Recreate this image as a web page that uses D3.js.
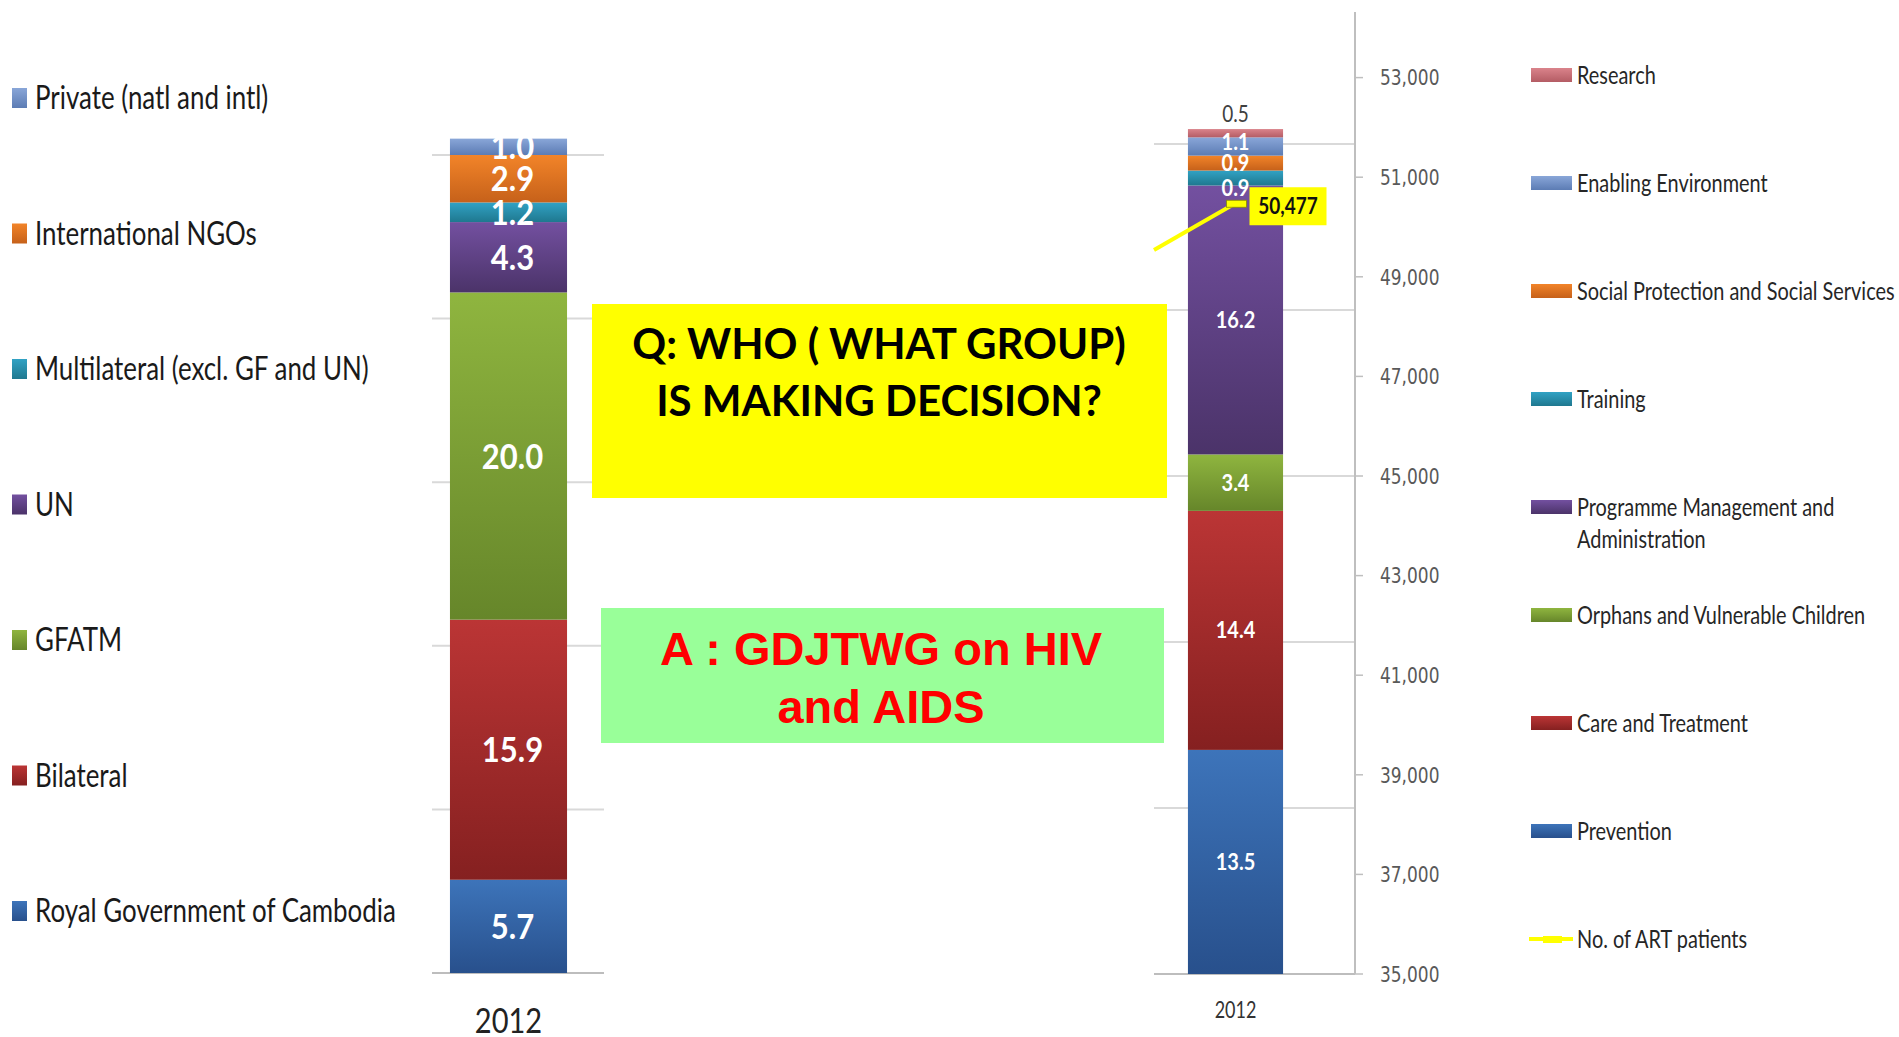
<!DOCTYPE html>
<html>
<head>
<meta charset="utf-8">
<script src="https://cdn.jsdelivr.net/npm/d3@7"></script>
<style>
  body { margin: 0; background: #fff; }
  svg { display: block; }
</style>
</head>
<body>
<svg width="1899" height="1037"></svg>
<script>
// left chart: funding sources, 2012 (US$ million)
var fundingSources = ["Royal Government of Cambodia", "Bilateral", "GFATM", "UN",
    "Multilateral (excl. GF and UN)", "International NGOs", "Private (natl and intl)"];
var fundingValues = [5.7, 15.9, 20.0, 4.3, 1.2, 2.9, 1.0];

// right chart: spending categories, 2012 (US$ million)
var spendingCategories = ["Prevention", "Care and Treatment", "Orphans and Vulnerable Children",
    "Programme Management and Administration", "Training",
    "Social Protection and Social Services", "Enabling Environment", "Research"];
var spendingValues = [13.5, 14.4, 3.4, 16.2, 0.9, 0.9, 1.1, 0.5];

// line on secondary axis: value where it enters the plot, then 2012
var years = ["2012"];
var artPatients = [49540, 50477];

var gridValues = [0, 10, 20, 30, 40, 50];
var artTicks = [35000, 37000, 39000, 41000, 43000, 45000, 47000, 49000, 51000, 53000];

var svg = d3.select("svg");
var calibri = "Lato, 'Open Sans', sans-serif";

var palette = {
    blue:   ["#3d74ba", "#28508c"],
    red:    ["#bb3535", "#852020"],
    green:  ["#8fb53f", "#66862a"],
    purple: ["#7350a0", "#4b3369"],
    teal:   ["#31a2c4", "#1f788f"],
    orange: ["#f28429", "#c6611a"],
    sky:    ["#89a6d8", "#5c7cb4"],
    pink:   ["#da838b", "#b45c64"]
};
var fundingColor = d3.scaleOrdinal()
    .domain(fundingSources)
    .range(["blue", "red", "green", "purple", "teal", "orange", "sky"]);
var spendingColor = d3.scaleOrdinal()
    .domain(spendingCategories)
    .range(["blue", "red", "green", "purple", "teal", "orange", "sky", "pink"]);

var defs = svg.append("defs");
Object.keys(palette).forEach(function(k) {
    var lg = defs.append("linearGradient")
        .attr("id", "grad-" + k)
        .attr("x1", 0).attr("y1", 0).attr("x2", 0).attr("y2", 1);
    lg.append("stop").attr("offset", "0%").attr("stop-color", palette[k][0]);
    lg.append("stop").attr("offset", "100%").attr("stop-color", palette[k][1]);
});
var fill = k => `url(#grad-${k})`;

// text is vertically stretched in the original slide
function stext(parent, x, y, str, size, sy) {
    return parent.append("text")
        .attr("transform", `translate(${x}, ${y}) scale(1, ${sy})`)
        .attr("dy", "0.36em")
        .attr("font-family", calibri)
        .attr("font-size", size)
        .text(str);
}

// ---------- left chart ----------
var xL = d3.scaleBand().domain(years).range([432, 585]).padding(0.133);
var yL = d3.scaleLinear().domain([0, 60]).range([973, 973 - 60 * 16.36]);

var gL = svg.append("g");
gL.selectAll("line.grid")
    .data(gridValues)
    .enter().append("line")
        .attr("x1", 432).attr("x2", 604)
        .attr("y1", d => yL(d)).attr("y2", d => yL(d))
        .attr("stroke", d => d === 0 ? "#bdbdbd" : "#d9d9d9")
        .attr("stroke-width", 2);

var rowL = { year: "2012" };
fundingSources.forEach((s, i) => rowL[s] = fundingValues[i]);
var stackL = d3.stack().keys(fundingSources)([rowL]);

gL.selectAll("rect.seg")
    .data(stackL)
    .enter().append("rect")
        .attr("x", xL("2012"))
        .attr("width", xL.bandwidth())
        .attr("y", d => yL(d[0][1]))
        .attr("height", d => yL(d[0][0]) - yL(d[0][1]))
        .attr("fill", d => fill(fundingColor(d.key)));

stackL.forEach(function(d) {
    stext(gL, xL("2012") + xL.bandwidth() / 2 + 4, yL((d[0][0] + d[0][1]) / 2),
            d3.format(".1f")(d[0][1] - d[0][0]), 31, 1.12)
        .attr("text-anchor", "middle")
        .attr("font-weight", 700)
        .attr("fill", "#fff");
});

stext(gL, xL("2012") + xL.bandwidth() / 2, 1020, "2012", 29, 1.2)
    .attr("text-anchor", "middle")
    .attr("fill", "#222");

// left legend
var legL = gL.append("g")
    .selectAll("g")
    .data(fundingSources.slice().reverse())
    .enter().append("g")
        .attr("transform", (d, i) => `translate(0, ${98 + i * 135.5})`);
legL.append("rect")
    .attr("x", 12).attr("y", -10)
    .attr("width", 15).attr("height", 20)
    .attr("fill", d => fill(fundingColor(d)));
legL.each(function(d) {
    stext(d3.select(this), 35, 0, d, 25.9, 1.23).attr("fill", "#1a1a1a");
});

// ---------- right chart ----------
var plotLeft = 1154, axisX = 1355;
var xR = d3.scaleBand().domain(years).range([plotLeft, 1317]).padding(0.263);
var yR = d3.scaleLinear().domain([0, 60]).range([974, -22]);
var yArt = d3.scaleLinear().domain([35000, 55000]).range([974, -22]);

var gR = svg.append("g");
gR.selectAll("line.grid")
    .data(gridValues)
    .enter().append("line")
        .attr("x1", plotLeft).attr("x2", axisX)
        .attr("y1", d => yR(d)).attr("y2", d => yR(d))
        .attr("stroke", d => d === 0 ? "#bdbdbd" : "#d9d9d9")
        .attr("stroke-width", 2);

var rowR = { year: "2012" };
spendingCategories.forEach((s, i) => rowR[s] = spendingValues[i]);
var stackR = d3.stack().keys(spendingCategories)([rowR]);

gR.selectAll("rect.seg")
    .data(stackR)
    .enter().append("rect")
        .attr("x", xR("2012"))
        .attr("width", xR.bandwidth())
        .attr("y", d => yR(d[0][1]))
        .attr("height", d => yR(d[0][0]) - yR(d[0][1]))
        .attr("fill", d => fill(spendingColor(d.key)));

var nudge = { "Training": 10, "Enabling Environment": -5 };
var cx = xR("2012") + xR.bandwidth() / 2;
stackR.forEach(function(d) {
    var v = d[0][1] - d[0][0];
    var outside = v < 0.6;
    var y = outside ? yR(d[0][1]) - 15 : yR((d[0][0] + d[0][1]) / 2) + (nudge[d.key] || 0);
    stext(gR, cx, y, d3.format(".1f")(v), outside ? 19 : 20, outside ? 1.2 : 1.12)
        .attr("text-anchor", "middle")
        .attr("font-weight", outside ? 400 : 700)
        .attr("fill", outside ? "#404040" : "#fff");
});

stext(gR, cx, 1010, "2012", 18, 1.25)
    .attr("text-anchor", "middle")
    .attr("fill", "#333");

// secondary axis
gR.append("line")
    .attr("x1", axisX).attr("x2", axisX)
    .attr("y1", 12).attr("y2", yArt(35000))
    .attr("stroke", "#bfbfbf").attr("stroke-width", 2);
var ticks = gR.selectAll("g.tick")
    .data(artTicks)
    .enter().append("g")
        .attr("transform", d => `translate(${axisX}, ${yArt(d)})`);
ticks.append("line")
    .attr("x2", 8)
    .attr("stroke", "#bfbfbf").attr("stroke-width", 1.5);
ticks.append("text")
    .attr("transform", "translate(25, 0) scale(1, 1.27)")
    .attr("dy", "0.36em")
    .attr("font-family", "'DejaVu Sans', Verdana, sans-serif")
    .attr("font-size", 17)
    .attr("fill", "#595959")
    .text(d => d3.format(",")(d));

// ART patients line
var artX = [plotLeft, cx];
var artLine = d3.line()
    .x((d, i) => artX[i])
    .y(d => yArt(d));
gR.append("path")
    .datum(artPatients)
    .attr("d", artLine)
    .attr("fill", "none")
    .attr("stroke", "#ffff00")
    .attr("stroke-width", 4);

var px = cx, py = yArt(artPatients[1]);
gR.append("rect")
    .attr("x", px - 9).attr("y", py - 3)
    .attr("width", 20).attr("height", 7)
    .attr("fill", "#ffff00")
    .attr("stroke", "#8a8a00").attr("stroke-width", 0.8);
gR.append("rect")
    .attr("x", px + 14).attr("y", py - 16)
    .attr("width", 77).attr("height", 38)
    .attr("fill", "#ffff00");
stext(gR, px + 52.5, py + 3, d3.format(",")(artPatients[1]), 19, 1.15)
    .attr("text-anchor", "middle")
    .attr("font-weight", 700)
    .attr("fill", "#111");

// right legend
var legendItems = spendingCategories.slice().reverse().concat(["No. of ART patients"]);
var legR = gR.append("g")
    .selectAll("g")
    .data(legendItems)
    .enter().append("g")
        .attr("transform", (d, i) => `translate(1531, ${75 + i * 108})`);
legR.each(function(d) {
    var g = d3.select(this);
    if (d === "No. of ART patients") {
        g.append("line").attr("x1", -2).attr("x2", 42)
            .attr("stroke", "#ffff00").attr("stroke-width", 4);
        g.append("rect").attr("x", 12).attr("y", -3)
            .attr("width", 19).attr("height", 7).attr("fill", "#ffff00");
    } else {
        g.append("rect").attr("y", -7)
            .attr("width", 41).attr("height", 14)
            .attr("fill", fill(spendingColor(d)));
    }
    var lines = d === "Programme Management and Administration"
        ? ["Programme Management and", "Administration"] : [d];
    lines.forEach(function(t, j) {
        stext(g, 46, j * 32, t, 19.9, 1.23).attr("fill", "#262626");
    });
});

// ---------- overlay question / answer boxes ----------
var note = svg.append("g");
note.append("rect")
    .attr("x", 592).attr("y", 304)
    .attr("width", 575).attr("height", 194)
    .attr("fill", "#ffff00");
["Q: WHO ( WHAT GROUP)", "IS MAKING DECISION?"].forEach(function(t, i) {
    note.append("text")
        .attr("x", 879).attr("y", 359 + i * 57)
        .attr("text-anchor", "middle")
        .attr("font-family", calibri)
        .attr("font-weight", 700)
        .attr("font-size", 42)
        .attr("fill", "#000")
        .text(t);
});
note.append("rect")
    .attr("x", 601).attr("y", 608)
    .attr("width", 563).attr("height", 135)
    .attr("fill", "#99ff99");
["A : GDJTWG on HIV", "and AIDS"].forEach(function(t, i) {
    note.append("text")
        .attr("x", 881).attr("y", 665 + i * 58)
        .attr("text-anchor", "middle")
        .attr("font-family", "'Liberation Sans', Arial, sans-serif")
        .attr("font-weight", 700)
        .attr("font-size", 47)
        .attr("fill", "#ff0000")
        .text(t);
});
</script>
</body>
</html>
